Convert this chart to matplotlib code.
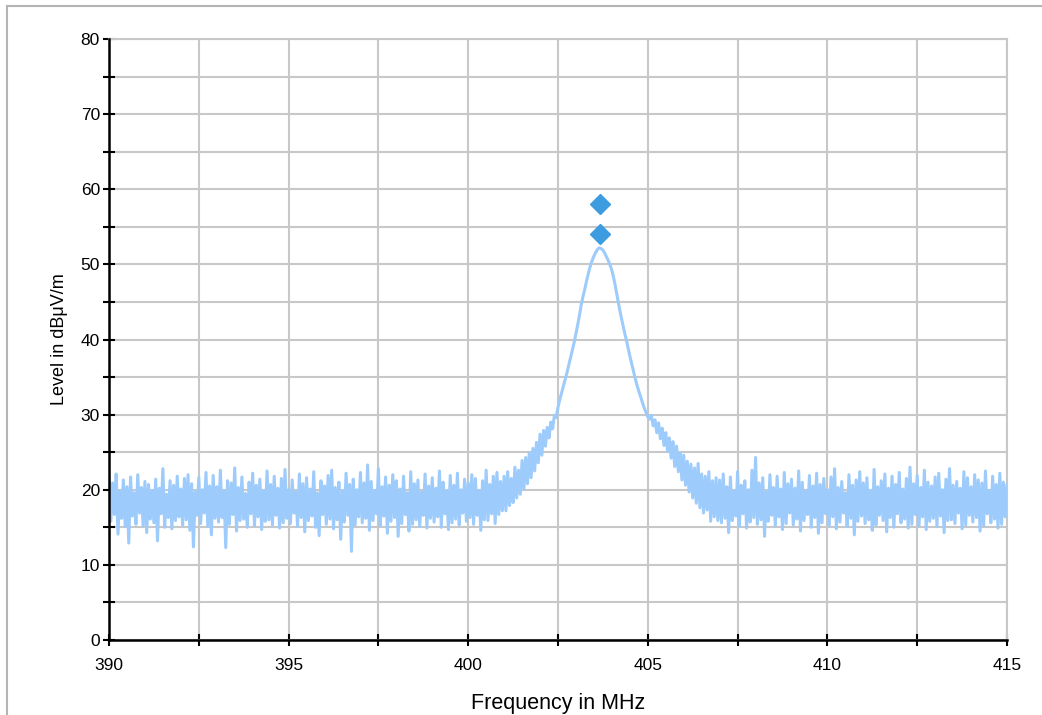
import numpy as np
import matplotlib
matplotlib.use("Agg")
import matplotlib.pyplot as plt
from matplotlib.patches import Rectangle
from matplotlib.ticker import MultipleLocator

plt.rcParams["font.family"] = ["Liberation Sans", "DejaVu Sans"]

# sweep 390..415 MHz, one reading every 50 kHz
freq_start = 390.0
freq_stop = 415.0

# 390.00 - 400.95 MHz, noise floor
level_left = [
    21.6, 15.8, 20.9, 16.7, 22.1, 14.1, 19.8, 16.2, 21.3, 15.1, 20.4, 12.9, 21.7, 16.5, 19.6, 15.4, 22.0, 16.9, 20.3, 15.2,
    21.1, 14.3, 20.7, 16.1, 19.9, 15.6, 21.4, 13.2, 20.2, 16.8, 22.8, 15.0, 19.4, 16.3, 21.2, 14.8, 20.6, 15.9, 21.8, 16.4,
    20.1, 15.3, 21.5, 16.0, 22.0, 14.6, 20.8, 12.4, 19.7, 16.6, 21.6, 15.5, 20.0, 16.9, 22.3, 15.1, 20.5, 14.0, 21.9, 16.2,
    20.4, 15.7, 22.6, 16.3, 19.8, 12.3, 21.2, 15.4, 20.9, 16.7, 22.9, 14.5, 20.3, 15.9, 21.7, 16.1, 19.5, 15.0, 21.0, 16.8,
    22.2, 15.2, 20.6, 16.4, 21.4, 14.7, 19.9, 15.8, 22.5, 16.0, 20.7, 15.3, 21.8, 16.6, 20.2, 14.9, 21.5, 15.6, 22.7, 16.2,
    20.0, 15.5, 21.3, 16.9, 19.7, 15.1, 22.1, 16.3, 20.8, 14.4, 21.6, 15.9, 20.1, 16.5, 22.4, 15.0, 19.6, 13.9, 21.2, 16.7,
    20.5, 15.4, 21.9, 16.1, 22.6, 14.8, 20.3, 16.0, 21.0, 13.4, 19.8, 15.7, 22.2, 16.6, 20.7, 11.8, 21.4, 15.3, 20.0, 16.4,
    22.3, 15.6, 20.9, 16.2, 23.3, 14.6, 21.1, 15.9, 19.9, 16.8, 22.8, 15.2, 20.4, 16.5, 21.7, 14.2, 20.6, 15.8, 22.0, 16.3,
    21.2, 13.8, 20.1, 15.5, 21.8, 16.7, 19.6, 14.5, 22.4, 15.4, 20.8, 16.0, 21.3, 15.1, 19.7, 16.6, 22.1, 14.9, 20.5, 16.2,
    21.6, 15.7, 20.2, 16.4, 22.5, 15.0, 21.0, 16.8, 19.8, 14.7, 21.9, 15.6, 20.6, 16.1, 22.2, 15.3, 20.0, 16.9, 21.4, 15.8,
    20.9, 16.3, 22.0, 15.4, 21.5, 16.6, 19.9, 14.6, 21.2, 16.0, 22.6, 15.9, 20.7, 16.8, 21.8, 15.5, 22.3, 16.7, 21.1, 17.2,
]

# 401.00 - 402.45 MHz, rising skirt
level_rise = [
    21.8, 17.2, 22.4, 17.9, 21.5, 18.3, 23.0, 18.9, 22.6, 19.4,
    23.9, 20.1, 24.3, 20.8, 24.9, 21.6, 25.5, 22.5, 26.3, 23.6,
    27.4, 24.6, 27.9, 25.8, 28.3, 26.9, 29.0, 28.1, 29.9, 29.6,
]

# 402.50 - 405.00 MHz, carrier
level_peak = [
    31.0, 32.0, 32.9, 33.8, 34.7, 35.6, 36.6, 37.6, 38.6, 39.6,
    40.8, 42.0, 43.3, 44.7, 45.8, 46.8, 47.9, 48.9, 49.8, 50.5,
    51.1, 51.6, 52.0, 52.2, 52.1, 51.9, 51.5, 51.0, 50.5, 49.9,
    49.2, 48.2, 47.0, 45.7, 44.4, 43.2, 42.1, 41.0, 40.0, 38.9,
    37.8, 36.8, 35.8, 34.8, 33.9, 33.1, 32.4, 31.6, 30.9, 30.3,
    29.7,
]

# 405.05 - 406.95 MHz, falling skirt
level_fall = [
    29.4, 29.9, 28.5, 29.3, 27.6, 28.9, 26.8, 28.2, 25.9, 27.6,
    25.1, 26.9, 24.2, 26.4, 23.1, 25.8, 22.4, 24.9, 21.3, 24.6,
    20.6, 23.8, 19.7, 23.4, 18.9, 22.9, 18.2, 23.5, 17.6, 22.1,
    16.9, 21.8, 17.3, 22.4, 15.8, 21.2, 16.4, 21.6, 15.9,
]

# 407.00 - 415.00 MHz, noise floor
level_right = [
    21.3, 15.6, 22.1, 16.2, 20.4, 14.3, 21.7, 15.9, 19.8, 16.5, 22.4, 15.1, 20.6, 16.8, 21.2, 14.9, 20.0, 15.7, 22.6, 16.3,
    24.3, 15.4, 20.9, 16.0, 21.6, 13.8, 19.7, 15.8, 22.0, 16.6, 20.3, 15.2, 21.8, 16.4, 20.1, 14.7, 22.3, 15.5, 20.8, 16.9,
    21.4, 15.3, 20.2, 16.1, 22.5, 14.5, 21.0, 15.9, 19.9, 16.7, 21.9, 15.0, 20.5, 16.3, 22.2, 14.2, 20.7, 15.6, 21.5, 16.8,
    20.0, 15.2, 21.7, 16.4, 22.8, 14.8, 20.3, 15.7, 21.1, 16.9, 19.6, 15.1, 22.0, 16.2, 20.6, 14.0, 21.3, 15.8, 22.4, 16.5,
    20.9, 15.5, 21.6, 16.0, 19.8, 14.6, 22.7, 15.3, 20.4, 16.6, 21.2, 15.9, 22.1, 14.4, 20.2, 16.3, 21.8, 15.0, 20.7, 16.8,
    22.3, 15.6, 20.1, 16.1, 21.5, 14.9, 23.0, 15.4, 20.8, 16.7, 21.9, 15.2, 20.3, 16.4, 22.6, 14.7, 21.0, 15.8, 20.5, 16.2,
    21.7, 15.1, 22.2, 16.5, 20.0, 14.3, 21.4, 15.9, 22.8, 16.0, 20.6, 15.5, 21.1, 16.9, 20.2, 14.8, 22.4, 15.3, 21.6, 16.6,
    20.4, 15.7, 22.0, 16.3, 21.3, 14.5, 20.9, 15.2, 22.5, 16.8, 19.9, 15.6, 21.8, 16.1, 20.7, 14.9, 22.2, 15.4, 21.0, 16.4,
    20.6,
]

# peak markers
marker_freq = [403.67, 403.67]
marker_level = [58.0, 54.0]

level = level_left + level_rise + level_peak + level_fall + level_right
freq = np.linspace(freq_start, freq_stop, len(level))

fig = plt.figure(figsize=(10.42, 7.15), dpi=100)
ax = fig.add_axes([109 / 1042, 1 - 640 / 715, 898 / 1042, 601 / 715])

ax.plot(freq, level, color="#9dcbfb", linewidth=2.2, zorder=3)
ax.plot(marker_freq, marker_level, linestyle="none", marker="D", markersize=10,
        color="#3d9be0", zorder=4)

ax.set_xlim(390, 415)
ax.set_ylim(0, 80)
ax.xaxis.set_major_locator(MultipleLocator(5))
ax.xaxis.set_minor_locator(MultipleLocator(2.5))
ax.yaxis.set_major_locator(MultipleLocator(10))
ax.yaxis.set_minor_locator(MultipleLocator(5))

ax.grid(True, which="both", color="#c8c8c8", linewidth=1.5, zorder=0)
ax.set_axisbelow(True)

ax.tick_params(which="both", direction="inout", length=8, width=1.5, color="black",
               labelsize=12.5)
ax.tick_params(axis="y", pad=2.5)
ax.tick_params(axis="x", pad=9)

for side in ["top", "right"]:
    ax.spines[side].set_color("#c8c8c8")
    ax.spines[side].set_linewidth(1.5)
for side in ["left", "bottom"]:
    ax.spines[side].set_linewidth(1.8)
    ax.spines[side].set_zorder(5)

ax.set_xlabel("Frequency in MHz", fontsize=15.5, labelpad=14)
ax.set_ylabel("Level in dBμV/m", fontsize=13, labelpad=9)

# outer frame of the page, cut off at right and bottom
fig.patches.append(Rectangle((7 / 1042, -0.1), 1.2, 1.1 - 6 / 715, transform=fig.transFigure,
                             fill=False, edgecolor="#b4b4b4", linewidth=1.5))

plt.savefig("out.png", dpi=100)
